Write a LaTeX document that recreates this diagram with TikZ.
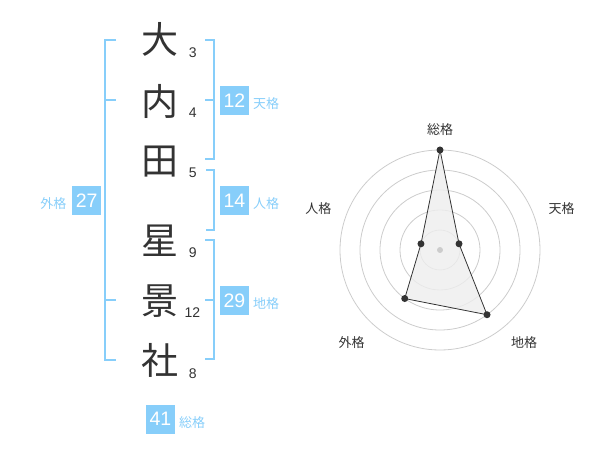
\documentclass[tikz,border=0pt]{standalone}
\usepackage{fontspec}
\setmainfont{Liberation Sans}
\newfontfamily\jp{Noto Sans CJK JP}
\definecolor{skyb}{RGB}{135,206,250}
\definecolor{ink}{RGB}{51,51,51}
\definecolor{ring}{RGB}{204,204,204}
\definecolor{area}{RGB}{238,238,238}
\begin{document}
\begin{tikzpicture}[x=1pt,y=-1pt,
  kanji/.style={inner sep=0pt,anchor=base,text=ink,font=\jp\fontsize{37}{37}\selectfont},
  strokes/.style={inner sep=0pt,anchor=base,text=ink,font=\fontsize{14}{14}\selectfont},
  valbox/.style={fill=skyb,minimum width=29pt,minimum height=29pt,inner sep=0pt,text=white,font=\fontsize{19.5}{19.5}\selectfont},
  kaku/.style={inner sep=0pt,text=skyb,font=\jp\fontsize{13}{13}\selectfont},
  bracket/.style={draw=skyb,line width=2pt},
  ringline/.style={draw=ring,line width=0.8pt},
  axislabel/.style={inner sep=0pt,text=ink,font=\jp\fontsize{13}{13}\selectfont},
  dot/.style={circle,fill=ink,inner sep=0pt,minimum size=7pt}]
\useasboundingbox (0,0) rectangle (600,470);
% characters
\node[kanji] (c1) at (160,54) {大};
\node[kanji] (c2) at (160,115.5) {内};
\node[kanji] (c3) at (160,174.5) {田};
\node[kanji] (c4) at (160,255) {星};
\node[kanji] (c5) at (160,315) {景};
\node[kanji] (c6) at (160,374.5) {社};
% stroke counts
\node[strokes] (s1) at (192.7,57.5) {3};
\node[strokes] (s2) at (192.7,118) {4};
\node[strokes] (s3) at (192.7,178) {5};
\node[strokes] (s4) at (192.7,258) {9};
\node[strokes] (s5) at (192.3,318) {12};
\node[strokes] (s6) at (192.7,378) {8};
% brackets
\draw[bracket] (116,40) -- (105,40) -- (105,360) -- (116,360);
\draw[bracket] (105,100) -- (116,100);
\draw[bracket] (105,300) -- (116,300);
\draw[bracket] (205,40) -- (214.3,40) -- (214.3,159.4) -- (205,159.4);
\draw[bracket] (205,100) -- (214.3,100);
\draw[bracket] (206,170) -- (214.3,170) -- (214.3,230) -- (206,230);
\draw[bracket] (205,240) -- (214.3,240) -- (214.3,359.4) -- (205,359.4);
\draw[bracket] (205,300) -- (214.3,300);
% value boxes
\node[valbox] (ten) at (234.5,100.5) {12};
\node[kaku] (tenl) at (266,103.8) {天格};
\node[valbox] (jin) at (234.5,200.5) {14};
\node[kaku] (jinl) at (266,203.5) {人格};
\node[valbox] (chi) at (234.5,300.5) {29};
\node[kaku] (chil) at (266,303.8) {地格};
\node[valbox] (gai) at (86.7,200.5) {27};
\node[kaku] (gail) at (53.3,203.5) {外格};
\node[valbox] (sou) at (160.5,419) {41};
\node[kaku] (soul) at (192,422.3) {総格};
% radar chart
\coordinate (ctr) at (440,250);
\foreach \r in {20,40,60,80,100} \draw[ringline] (ctr) circle[radius=\r pt];
\coordinate (pS) at (440,150);
\coordinate (pT) at (459.02,243.82);
\coordinate (pC) at (487.02,314.72);
\coordinate (pG) at (404.73,298.54);
\coordinate (pJ) at (420.98,243.82);
\filldraw[fill=area,fill opacity=0.8,draw=ink,line width=0.8pt] (pS) -- (pT) -- (pC) -- (pG) -- (pJ) -- cycle;
\node[circle,fill=ring,inner sep=0pt,minimum size=6pt] (cdot) at (ctr) {};
\foreach \p in {pS,pT,pC,pG,pJ} \node[dot] at (\p) {};
\node[axislabel] (aS) at (440,130) {総格};
\node[axislabel] (aT) at (561.7,208.3) {天格};
\node[axislabel] (aJ) at (318.3,208.3) {人格};
\node[axislabel] (aG) at (351.7,342.3) {外格};
\node[axislabel] (aC) at (524,342.3) {地格};
\end{tikzpicture}
\end{document}
